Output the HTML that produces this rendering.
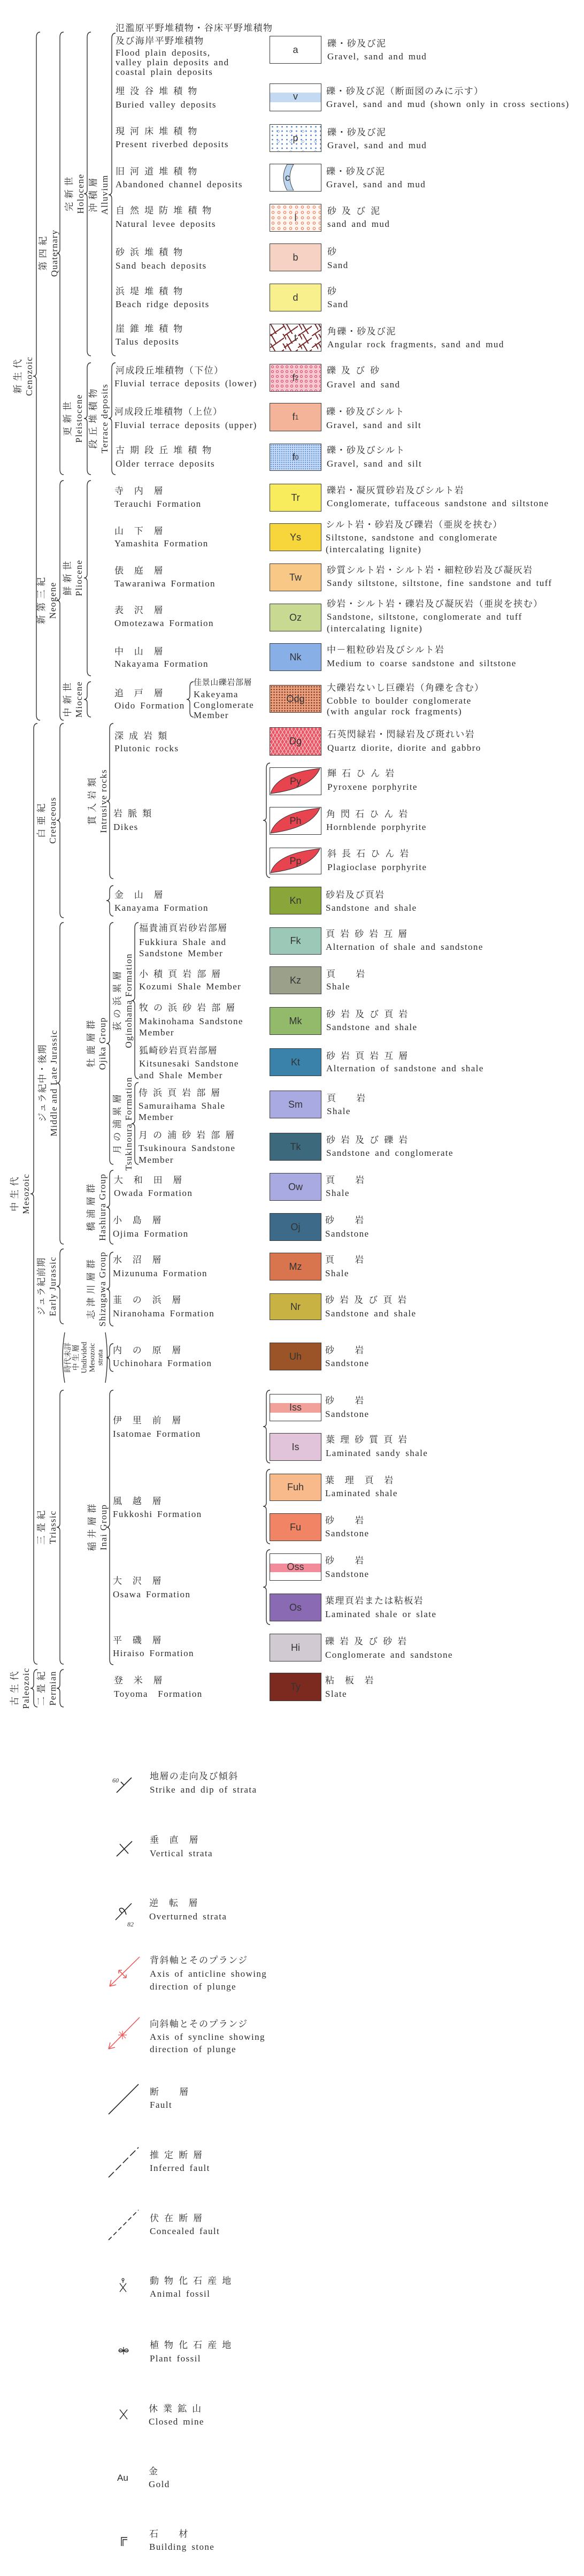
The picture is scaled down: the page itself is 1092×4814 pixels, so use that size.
<!DOCTYPE html>
<html><head><meta charset="utf-8">
<style>
html,body{margin:0;padding:0;background:#fff;}
body{width:1092px;height:4814px;position:relative;overflow:hidden;}
.t{position:absolute;white-space:nowrap;font:17px/20px "Liberation Serif","Noto Serif CJK JP",serif;color:#2b2b2b;letter-spacing:1.4px;word-spacing:3px;}
.s{font-size:15px;letter-spacing:0.6px;}
.b{position:absolute;left:504px;width:97px;border:1.5px solid #3a3a3a;box-sizing:border-box;font:18px "Liberation Sans",sans-serif;display:flex;align-items:center;justify-content:center;color:#333;overflow:hidden;}
.v{position:absolute;transform:translate(-50%,-50%) rotate(-90deg);white-space:nowrap;text-align:center;font:17px/21px "Liberation Serif","Noto Serif CJK JP",serif;color:#2b2b2b;letter-spacing:1.2px;}
.vs{font-size:14px;line-height:15px;letter-spacing:0;}
svg{position:absolute;left:0;top:0;}
</style></head><body>

<svg width="1092" height="4814" fill="none" stroke="#333" stroke-width="1.4">
<path d="M75 60Q68 60 68 70V696Q68 703 62 703Q68 703 68 710V1336Q68 1346 75 1346"/>
<path d="M119 60Q112 60 112 70V466Q112 473 106 473Q112 473 112 480V877Q112 887 119 887"/>
<path d="M170 60Q163 60 163 70V355Q163 362 157 362Q163 362 163 369V655Q163 665 170 665"/>
<path d="M216 62Q209 62 209 72V357Q209 364 203 364Q209 364 209 371V655Q209 665 216 665"/>
<path d="M170 678Q163 678 163 688V775Q163 782 157 782Q163 782 163 789V877Q163 887 170 887"/>
<path d="M216 678Q209 678 209 688V775Q209 782 203 782Q209 782 209 789V877Q209 887 216 887"/>
<path d="M119 898Q112 898 112 908V1115Q112 1122 106 1122Q112 1122 112 1129V1336Q112 1346 119 1346"/>
<path d="M170 898Q163 898 163 908V1073Q163 1080 157 1080Q163 1080 163 1087V1253Q163 1263 170 1263"/>
<path d="M170 1274Q163 1274 163 1284V1300Q163 1307 157 1307Q163 1307 163 1314V1330Q163 1340 170 1340"/>
<path d="M362 1274Q355 1274 355 1284V1300Q355 1307 349 1307Q355 1307 355 1314V1330Q355 1340 362 1340"/>
<path d="M70 1352Q63 1352 63 1362V2224Q63 2231 57 2231Q63 2231 63 2238V3100Q63 3110 70 3110"/>
<path d="M119 1352Q112 1352 112 1362V1526Q112 1533 106 1533Q112 1533 112 1540V1705Q112 1715 119 1715"/>
<path d="M212 1352Q205 1352 205 1362V1490Q205 1497 199 1497Q205 1497 205 1504V1632Q205 1642 212 1642"/>
<path d="M505 1426Q498 1426 498 1436V1526Q498 1533 492 1533Q498 1533 498 1540V1630Q498 1640 505 1640"/>
<path d="M212 1655Q205 1655 205 1665V1676Q205 1683 199 1683Q205 1683 205 1690V1702Q205 1712 212 1712"/>
<path d="M119 1724Q112 1724 112 1734V2017Q112 2024 106 2024Q112 2024 112 2031V2315Q112 2325 119 2325"/>
<path d="M212 1724Q205 1724 205 1734V1943Q205 1950 199 1950Q205 1950 205 1957V2166Q205 2176 212 2176"/>
<path d="M259 1724Q252 1724 252 1734V1863Q252 1870 246 1870Q252 1870 252 1877V2006Q252 2016 259 2016"/>
<path d="M259 2023Q252 2023 252 2033V2093Q252 2100 246 2100Q252 2100 252 2107V2166Q252 2176 259 2176"/>
<path d="M212 2187Q205 2187 205 2197V2249Q205 2256 199 2256Q205 2256 205 2263V2315Q205 2325 212 2325"/>
<path d="M119 2334Q112 2334 112 2344V2397Q112 2404 106 2404Q112 2404 112 2411V2464Q112 2474 119 2474"/>
<path d="M212 2340Q205 2340 205 2350V2402Q205 2409 199 2409Q205 2409 205 2416V2468Q205 2478 212 2478"/>
<path d="M212 2511Q205 2511 205 2521V2530Q205 2537 199 2537Q205 2537 205 2544V2553Q205 2563 212 2563"/>
<path d="M119 2598Q112 2598 112 2608V2847Q112 2854 106 2854Q112 2854 112 2861V3100Q112 3110 119 3110"/>
<path d="M212 2598Q205 2598 205 2608V2847Q205 2854 199 2854Q205 2854 205 2861V3101Q205 3111 212 3111"/>
<path d="M505 2598Q498 2598 498 2608V2659Q498 2666 492 2666Q498 2666 498 2673V2724Q498 2734 505 2734"/>
<path d="M505 2746Q498 2746 498 2756V2808Q498 2815 492 2815Q498 2815 498 2822V2875Q498 2885 505 2885"/>
<path d="M505 2896Q498 2896 498 2906V2959Q498 2966 492 2966Q498 2966 498 2973V3026Q498 3036 505 3036"/>
<path d="M119 3120Q112 3120 112 3130V3148Q112 3155 106 3155Q112 3155 112 3162V3180Q112 3190 119 3190"/>
<path d="M70 3120Q63 3120 63 3130V3148Q63 3155 57 3155Q63 3155 63 3162V3180Q63 3190 70 3190"/>
<!-- undivided parens -->
<path d="M121 2490Q113 2537 121 2584"/><path d="M197 2490Q204 2537 197 2584"/>

<!-- symbols -->
<g stroke="#222" stroke-width="1.6">
<line x1="218" y1="3350" x2="246" y2="3322"/><line x1="232" y1="3336" x2="226" y2="3330"/>
<line x1="218" y1="3469" x2="247" y2="3441"/><line x1="224" y1="3446" x2="240" y2="3464"/>
<line x1="216" y1="3588" x2="246" y2="3557"/><path d="M228 3575Q220 3568 226 3566Q232 3565 236 3578"/>
<line x1="203" y1="3951" x2="259" y2="3895"/>
<line x1="203" y1="4069" x2="259" y2="4013" stroke-dasharray="14 5"/>
<line x1="203" y1="4186" x2="259" y2="4130" stroke-dasharray="8 5"/>
<path d="M224 4267L236 4283M236 4267L224 4283M230 4266V4262" stroke-width="1.3"/>
<circle cx="230" cy="4260" r="2" stroke-width="1.2"/>
<path d="M222 4393H240M231 4386V4400M231 4393Q224 4386 222 4393Q224 4398 231 4393Q238 4386 240 4393Q238 4398 231 4393" stroke-width="1.2"/>
<path d="M224 4503L238 4521M238 4503L224 4521" stroke-width="1.4"/>
<path d="M227 4758V4742H238M230 4758V4746H238" stroke-width="1.4"/>
</g>
<g stroke="#ee5555" stroke-width="1.5">
<line x1="261" y1="3657" x2="205" y2="3712"/><path d="M205 3712l3 -12M205 3712l12 -3"/>
<path d="M222 3682l14 14M222 3682l0 6M222 3682l6 0M236 3696l0 -6M236 3696l-6 0"/>
<line x1="261" y1="3770" x2="203" y2="3829"/><path d="M203 3829l3 -12M203 3829l12 -3"/>
<path d="M229 3795v16M221 3803h16M223 3797l12 12M235 3797l-12 12" stroke-width="1.2"/>
</g>
<text x="210" y="3331" font-family="Liberation Serif" font-style="italic" font-size="12" fill="#333" stroke="none">60</text>
<text x="238" y="3600" font-family="Liberation Serif" font-style="italic" font-size="12" fill="#333" stroke="none">82</text>
</svg>

<!-- vertical labels -->
<div class="v" style="left:44px;top:703px">新 生 代<br>Cenozoic</div>
<div class="v" style="left:91px;top:473px">第 四 紀<br>Quaternary</div>
<div class="v" style="left:140px;top:362px">完 新 世<br>Holocene</div>
<div class="v" style="left:185px;top:364px">沖 積 層<br>Alluvium</div>
<div class="v" style="left:137px;top:782px">更 新 世<br>Pleistocene</div>
<div class="v" style="left:185px;top:782px">段 丘 堆 積 物<br>Terrace deposits</div>
<div class="v" style="left:88px;top:1122px">新 第 三 紀<br>Neogene</div>
<div class="v" style="left:137px;top:1080px">鮮 新 世<br>Pliocene</div>
<div class="v" style="left:137px;top:1307px">中 新 世<br>Miocene</div>
<div class="v" style="left:88px;top:1533px">白 亜 紀<br>Cretaceous</div>
<div class="v" style="left:183px;top:1497px">貫 入 岩 類<br>Intrusive rocks</div>
<div class="v" style="left:38px;top:2231px">中 生 代<br>Mesozoic</div>
<div class="v" style="left:90px;top:2024px">ジュラ紀中・後期<br>Middle and Late Jurassic</div>
<div class="v" style="left:181px;top:1950px">牡 鹿 層 群<br>Ojika Group</div>
<div class="v" style="left:230px;top:1870px">荻 の 浜 累 層<br>Oginohama Formation</div>
<div class="v" style="left:230px;top:2100px">月 の 浦 累 層<br>Tsukinoura Formation</div>
<div class="v" style="left:181px;top:2256px">橋 浦 層 群<br>Hashiura Group</div>
<div class="v" style="left:88px;top:2404px">ジュラ紀前期<br>Early Jurassic</div>
<div class="v" style="left:181px;top:2409px">志 津 川 層 群<br>Shizugawa Group</div>
<div class="v vs" style="left:158px;top:2537px">時代未詳<br>中 生 層<br>Undivided<br>Mesozoic<br>strata</div>
<div class="v" style="left:88px;top:2854px">三 畳 紀<br>Triassic</div>
<div class="v" style="left:183px;top:2854px">稲 井 層 群<br>Inai Group</div>
<div class="v" style="left:38px;top:3155px">古 生 代<br>Paleozoic</div>
<div class="v" style="left:88px;top:3155px">二 畳 紀<br>Permian</div>

<!-- boxes -->
<div class="b" style="top:67px;height:52px;background:#fff">a</div>
<div class="b" style="top:156px;height:52px;background:linear-gradient(#fff 0 16px,#c4daf2 16px 34px,#fff 34px)"><span style="position:relative;top:-2px">v</span></div>
<div class="b" style="top:232px;height:52px;background:radial-gradient(circle,#4a7ed0 1.2px,transparent 1.6px) 0 0/9px 8px,radial-gradient(circle,transparent 1.5px,#6a9ae0 1.6px,#6a9ae0 2.2px,transparent 2.4px) 4px 3px/23px 19px,#fff">p</div>
<div class="b" style="top:306px;height:52px;background:#fff"><svg width="94" height="49" style="left:0;top:0"><path d="M32 0Q18 24 32 49L44 49Q30 24 44 0Z" fill="#bcd6f0" stroke="#444" stroke-width="1"/></svg><span style="position:relative;left:-15px">c</span></div>
<div class="b" style="top:381px;height:52px;background:radial-gradient(circle,transparent 1.6px,#ee7a50 1.8px,#ee7a50 2.6px,transparent 2.9px) 0 0/11px 10px,#fff6f2">l</div>
<div class="b" style="top:455px;height:52px;background:#f6d2c4">b</div>
<div class="b" style="top:530px;height:52px;background:#f8f08c">d</div>
<div class="b" style="top:605px;height:52px;background:repeating-linear-gradient(60deg,transparent 0 9px,#7a2a2a 9px 11px,transparent 11px 20px),repeating-linear-gradient(-35deg,transparent 0 14px,#7a2a2a 14px 16px,transparent 16px 26px),#fff;background-size:30px 18px,26px 22px">t</div>
<div class="b" style="top:680px;height:52px;background:radial-gradient(circle,transparent 1.5px,#e0405a 1.7px,#e0405a 2.4px,transparent 2.7px) 0 0/9px 9px,#f6c8d2">f<sub style="font-size:12px">2</sub></div>
<div class="b" style="top:753px;height:53px;background:#f4b49a">f<sub style="font-size:12px">1</sub></div>
<div class="b" style="top:829px;height:51px;background:radial-gradient(circle,#5a88d0 0.9px,transparent 1.2px) 0 0/4px 4px,#c4daf4">f<sub style="font-size:12px">0</sub></div>
<div class="b" style="top:904px;height:52px;background:#f8ec5c">Tr</div>
<div class="b" style="top:978px;height:52px;background:#f6d63a">Ys</div>
<div class="b" style="top:1053px;height:52px;background:#f8c886">Tw</div>
<div class="b" style="top:1128px;height:52px;background:#c8da92">Oz</div>
<div class="b" style="top:1202px;height:52px;background:#88afe6">Nk</div>
<div class="b" style="top:1280px;height:52px;background:radial-gradient(circle,#5a2a1a 1px,transparent 1.4px) 0 0/5px 5px,#f0a07c">Odg</div>
<div class="b" style="top:1359px;height:53px;background:repeating-linear-gradient(60deg,transparent 0 5px,#fbd0d4 5px 6px),repeating-linear-gradient(-60deg,transparent 0 5px,#fbd0d4 5px 6px),#ec5464">Dg</div>
<div class="b" style="top:1434px;height:52px;background:#fff"><svg width="94" height="49"><path d="M1 48Q12 10 93 1Q78 38 1 48Z" fill="#e84450" stroke="#333" stroke-width="1"/></svg><span style="position:relative">Py</span></div>
<div class="b" style="top:1508px;height:52px;background:#fff"><svg width="94" height="49"><path d="M1 48Q12 10 93 1Q78 38 1 48Z" fill="#e84450" stroke="#333" stroke-width="1"/></svg><span style="position:relative">Ph</span></div>
<div class="b" style="top:1584px;height:50px;background:#fff"><svg width="94" height="47"><path d="M1 46Q12 10 93 1Q78 36 1 46Z" fill="#e84450" stroke="#333" stroke-width="1"/></svg><span style="position:relative">Pp</span></div>
<div class="b" style="top:1657px;height:52px;background:#8aa63a">Kn</div>
<div class="b" style="top:1733px;height:51px;background:#9cc8b8">Fk</div>
<div class="b" style="top:1806px;height:52px;background:#9aa08a">Kz</div>
<div class="b" style="top:1882px;height:52px;background:#92ba6a">Mk</div>
<div class="b" style="top:1959px;height:52px;background:#3a82aa">Kt</div>
<div class="b" style="top:2038px;height:52px;background:#aaaae2">Sm</div>
<div class="b" style="top:2117px;height:52px;background:#3c6a7c">Tk</div>
<div class="b" style="top:2192px;height:52px;background:#aaaae2">Ow</div>
<div class="b" style="top:2267px;height:52px;background:#3c6a88">Oj</div>
<div class="b" style="top:2341px;height:52px;background:#d8744e">Mz</div>
<div class="b" style="top:2417px;height:50px;background:#c8b244">Nr</div>
<div class="b" style="top:2509px;height:52px;background:#9a5428">Uh</div>
<div class="b" style="top:2605px;height:51px;background:linear-gradient(#fff 0 16px,#f2a09a 16px 34px,#fff 34px)">Iss</div>
<div class="b" style="top:2678px;height:52px;background:#e2c4da">Is</div>
<div class="b" style="top:2754px;height:51px;background:#f8ba8a">Fuh</div>
<div class="b" style="top:2828px;height:52px;background:#f08464">Fu</div>
<div class="b" style="top:2903px;height:51px;background:linear-gradient(#fff 0 18px,#f28c9a 18px 34px,#fff 34px)">Oss</div>
<div class="b" style="top:2978px;height:52px;background:#8a6ab2">Os</div>
<div class="b" style="top:3053px;height:52px;background:#d2cad2">Hi</div>
<div class="b" style="top:3126px;height:53px;background:#7c2a20">Ty</div>

<!-- left names -->
<div class="t" style="left:216px;top:43px">氾濫原平野堆積物・谷床平野堆積物</div>
<div class="t" style="left:216px;top:67px">及び海岸平野堆積物</div>
<div class="t" style="left:216px;top:89px">Flood plain deposits,</div>
<div class="t" style="left:216px;top:107px">valley plain deposits and</div>
<div class="t" style="left:216px;top:125px">coastal plain deposits</div>
<div class="t" style="left:216px;top:161px">埋 没 谷 堆 積 物</div>
<div class="t" style="left:216px;top:186px">Buried valley deposits</div>
<div class="t" style="left:216px;top:236px">現 河 床 堆 積 物</div>
<div class="t" style="left:216px;top:260px">Present riverbed deposits</div>
<div class="t" style="left:216px;top:311px">旧 河 道 堆 積 物</div>
<div class="t" style="left:216px;top:335px">Abandoned channel deposits</div>
<div class="t" style="left:216px;top:384px">自 然 堤 防 堆 積 物</div>
<div class="t" style="left:216px;top:409px">Natural levee deposits</div>
<div class="t" style="left:216px;top:462px">砂 浜 堆 積 物</div>
<div class="t" style="left:216px;top:487px">Sand beach deposits</div>
<div class="t" style="left:216px;top:535px">浜 堤 堆 積 物</div>
<div class="t" style="left:216px;top:559px">Beach ridge deposits</div>
<div class="t" style="left:216px;top:605px">崖 錐 堆 積 物</div>
<div class="t" style="left:216px;top:629px">Talus deposits</div>
<div class="t" style="left:216px;top:683px">河成段丘堆積物（下位）</div>
<div class="t" style="left:214px;top:707px">Fluvial terrace deposits (lower)</div>
<div class="t" style="left:214px;top:760px">河成段丘堆積物（上位）</div>
<div class="t" style="left:214px;top:785px">Fluvial terrace deposits (upper)</div>
<div class="t" style="left:216px;top:832px">古 期 段 丘 堆 積 物</div>
<div class="t" style="left:216px;top:857px">Older terrace deposits</div>
<div class="t" style="left:214px;top:908px">寺　内　層</div>
<div class="t" style="left:214px;top:932px">Terauchi Formation</div>
<div class="t" style="left:214px;top:983px">山　下　層</div>
<div class="t" style="left:214px;top:1006px">Yamashita Formation</div>
<div class="t" style="left:214px;top:1057px">俵　庭　層</div>
<div class="t" style="left:214px;top:1081px">Tawaraniwa Formation</div>
<div class="t" style="left:214px;top:1131px">表　沢　層</div>
<div class="t" style="left:214px;top:1155px">Omotezawa Formation</div>
<div class="t" style="left:214px;top:1208px">中　山　層</div>
<div class="t" style="left:214px;top:1231px">Nakayama Formation</div>
<div class="t" style="left:214px;top:1286px">追　戸　層</div>
<div class="t" style="left:214px;top:1309px">Oido Formation</div>
<div class="t s" style="left:362px;top:1266px">佳景山礫岩部層</div>
<div class="t" style="left:362px;top:1288px">Kakeyama</div>
<div class="t" style="left:362px;top:1308px">Conglomerate</div>
<div class="t" style="left:362px;top:1327px">Member</div>
<div class="t" style="left:214px;top:1366px">深 成 岩 類</div>
<div class="t" style="left:214px;top:1389px">Plutonic rocks</div>
<div class="t" style="left:212px;top:1511px">岩 脈 類</div>
<div class="t" style="left:212px;top:1536px">Dikes</div>
<div class="t" style="left:214px;top:1663px">金　山　層</div>
<div class="t" style="left:214px;top:1687px">Kanayama Formation</div>
<div class="t" style="left:260px;top:1725px">福貴浦頁岩砂岩部層</div>
<div class="t" style="left:260px;top:1751px">Fukkiura Shale and</div>
<div class="t" style="left:260px;top:1772px">Sandstone Member</div>
<div class="t" style="left:260px;top:1811px">小 積 頁 岩 部 層</div>
<div class="t" style="left:260px;top:1834px">Kozumi Shale Member</div>
<div class="t" style="left:260px;top:1874px">牧 の 浜 砂 岩 部 層</div>
<div class="t" style="left:260px;top:1899px">Makinohama Sandstone</div>
<div class="t" style="left:260px;top:1920px">Member</div>
<div class="t" style="left:260px;top:1954px">狐崎砂岩頁岩部層</div>
<div class="t" style="left:260px;top:1978px">Kitsunesaki Sandstone</div>
<div class="t" style="left:260px;top:2000px">and Shale Member</div>
<div class="t" style="left:259px;top:2033px">侍 浜 頁 岩 部 層</div>
<div class="t" style="left:259px;top:2057px">Samuraihama Shale</div>
<div class="t" style="left:259px;top:2078px">Member</div>
<div class="t" style="left:259px;top:2112px">月 の 浦 砂 岩 部 層</div>
<div class="t" style="left:259px;top:2136px">Tsukinoura Sandstone</div>
<div class="t" style="left:259px;top:2158px">Member</div>
<div class="t" style="left:213px;top:2196px">大　和　田　層</div>
<div class="t" style="left:213px;top:2220px">Owada Formation</div>
<div class="t" style="left:211px;top:2271px">小　島　層</div>
<div class="t" style="left:211px;top:2296px">Ojima Formation</div>
<div class="t" style="left:211px;top:2345px">水　沼　層</div>
<div class="t" style="left:211px;top:2370px">Mizunuma Formation</div>
<div class="t" style="left:211px;top:2420px">韮　の　浜　層</div>
<div class="t" style="left:211px;top:2445px">Niranohama Formation</div>
<div class="t" style="left:211px;top:2514px">内　の　原　層</div>
<div class="t" style="left:211px;top:2538px">Uchinohara Formation</div>
<div class="t" style="left:211px;top:2645px">伊　里　前　層</div>
<div class="t" style="left:211px;top:2670px">Isatomae Formation</div>
<div class="t" style="left:211px;top:2796px">風　越　層</div>
<div class="t" style="left:211px;top:2820px">Fukkoshi Formation</div>
<div class="t" style="left:211px;top:2945px">大　沢　層</div>
<div class="t" style="left:211px;top:2970px">Osawa Formation</div>
<div class="t" style="left:211px;top:3056px">平　磯　層</div>
<div class="t" style="left:211px;top:3080px">Hiraiso Formation</div>
<div class="t" style="left:213px;top:3131px">登　米　層</div>
<div class="t" style="left:213px;top:3156px">Toyoma　Formation</div>

<!-- descriptions -->
<div class="t" style="left:612px;top:72px">礫・砂及び泥</div>
<div class="t" style="left:612px;top:96px">Gravel, sand and mud</div>
<div class="t" style="left:610px;top:161px">礫・砂及び泥（断面図のみに示す）</div>
<div class="t" style="left:610px;top:185px">Gravel, sand and mud (shown only in cross sections)</div>
<div class="t" style="left:612px;top:238px">礫・砂及び泥</div>
<div class="t" style="left:612px;top:262px">Gravel, sand and mud</div>
<div class="t" style="left:610px;top:311px">礫・砂及び泥</div>
<div class="t" style="left:610px;top:335px">Gravel, sand and mud</div>
<div class="t" style="left:612px;top:385px">砂 及 び 泥</div>
<div class="t" style="left:612px;top:409px">sand and mud</div>
<div class="t" style="left:612px;top:461px">砂</div>
<div class="t" style="left:612px;top:486px">Sand</div>
<div class="t" style="left:612px;top:535px">砂</div>
<div class="t" style="left:612px;top:559px">Sand</div>
<div class="t" style="left:612px;top:610px">角礫・砂及び泥</div>
<div class="t" style="left:612px;top:634px">Angular rock fragments, sand and mud</div>
<div class="t" style="left:611px;top:683px">礫 及 び 砂</div>
<div class="t" style="left:611px;top:709px">Gravel and sand</div>
<div class="t" style="left:610px;top:760px">礫・砂及びシルト</div>
<div class="t" style="left:610px;top:785px">Gravel, sand and silt</div>
<div class="t" style="left:611px;top:832px">礫・砂及びシルト</div>
<div class="t" style="left:611px;top:857px">Gravel, sand and silt</div>
<div class="t" style="left:611px;top:907px">礫岩・凝灰質砂岩及びシルト岩</div>
<div class="t" style="left:611px;top:931px">Conglomerate, tuffaceous sandstone and siltstone</div>
<div class="t" style="left:609px;top:971px">シルト岩・砂岩及び礫岩（亜炭を挟む）</div>
<div class="t" style="left:609px;top:995px">Siltstone, sandstone and conglomerate</div>
<div class="t" style="left:609px;top:1017px">(intercalating lignite)</div>
<div class="t" style="left:611px;top:1056px">砂質シルト岩・シルト岩・細粒砂岩及び凝灰岩</div>
<div class="t" style="left:611px;top:1080px">Sandy siltstone, siltstone, fine sandstone and tuff</div>
<div class="t" style="left:611px;top:1119px">砂岩・シルト岩・礫岩及び凝灰岩（亜炭を挟む）</div>
<div class="t" style="left:611px;top:1143px">Sandstone, siltstone, conglomerate and tuff</div>
<div class="t" style="left:611px;top:1165px">(intercalating lignite)</div>
<div class="t" style="left:611px;top:1205px">中－粗粒砂岩及びシルト岩</div>
<div class="t" style="left:611px;top:1230px">Medium to coarse sandstone and siltstone</div>
<div class="t" style="left:611px;top:1276px">大礫岩ないし巨礫岩（角礫を含む）</div>
<div class="t" style="left:611px;top:1300px">Cobble to boulder conglomerate</div>
<div class="t" style="left:611px;top:1320px">(with angular rock fragments)</div>
<div class="t" style="left:612px;top:1363px">石英閃緑岩・閃緑岩及び斑れい岩</div>
<div class="t" style="left:612px;top:1388px">Quartz diorite, diorite and gabbro</div>
<div class="t" style="left:612px;top:1436px">輝 石 ひ ん 岩</div>
<div class="t" style="left:612px;top:1461px">Pyroxene porphyrite</div>
<div class="t" style="left:610px;top:1512px">角 閃 石 ひ ん 岩</div>
<div class="t" style="left:610px;top:1536px">Hornblende porphyrite</div>
<div class="t" style="left:612px;top:1586px">斜 長 石 ひ ん 岩</div>
<div class="t" style="left:612px;top:1611px">Plagioclase porphyrite</div>
<div class="t" style="left:609px;top:1663px">砂岩及び頁岩</div>
<div class="t" style="left:609px;top:1687px">Sandstone and shale</div>
<div class="t" style="left:609px;top:1736px">頁 岩 砂 岩 互 層</div>
<div class="t" style="left:609px;top:1760px">Alternation of shale and sandstone</div>
<div class="t" style="left:610px;top:1811px">頁　　岩</div>
<div class="t" style="left:610px;top:1834px">Shale</div>
<div class="t" style="left:610px;top:1886px">砂 岩 及 び 頁 岩</div>
<div class="t" style="left:610px;top:1910px">Sandstone and shale</div>
<div class="t" style="left:610px;top:1964px">砂 岩 頁 岩 互 層</div>
<div class="t" style="left:610px;top:1987px">Alternation of sandstone and shale</div>
<div class="t" style="left:611px;top:2043px">頁　　岩</div>
<div class="t" style="left:611px;top:2067px">Shale</div>
<div class="t" style="left:610px;top:2121px">砂 岩 及 び 礫 岩</div>
<div class="t" style="left:610px;top:2145px">Sandstone and conglomerate</div>
<div class="t" style="left:609px;top:2196px">頁　　岩</div>
<div class="t" style="left:609px;top:2220px">Shale</div>
<div class="t" style="left:608px;top:2271px">砂　　岩</div>
<div class="t" style="left:608px;top:2296px">Sandstone</div>
<div class="t" style="left:608px;top:2345px">頁　　岩</div>
<div class="t" style="left:608px;top:2370px">Shale</div>
<div class="t" style="left:608px;top:2420px">砂 岩 及 び 頁 岩</div>
<div class="t" style="left:608px;top:2445px">Sandstone and shale</div>
<div class="t" style="left:608px;top:2514px">砂　　岩</div>
<div class="t" style="left:608px;top:2538px">Sandstone</div>
<div class="t" style="left:608px;top:2608px">砂　　岩</div>
<div class="t" style="left:608px;top:2633px">Sandstone</div>
<div class="t" style="left:609px;top:2681px">葉 理 砂 質 頁 岩</div>
<div class="t" style="left:609px;top:2706px">Laminated sandy shale</div>
<div class="t" style="left:608px;top:2757px">葉　理　頁　岩</div>
<div class="t" style="left:608px;top:2781px">Laminated shale</div>
<div class="t" style="left:608px;top:2832px">砂　　岩</div>
<div class="t" style="left:608px;top:2856px">Sandstone</div>
<div class="t" style="left:608px;top:2907px">砂　　岩</div>
<div class="t" style="left:608px;top:2932px">Sandstone</div>
<div class="t" style="left:608px;top:2982px">葉理頁岩または粘板岩</div>
<div class="t" style="left:608px;top:3007px">Laminated shale or slate</div>
<div class="t" style="left:608px;top:3058px">礫 岩 及 び 砂 岩</div>
<div class="t" style="left:608px;top:3083px">Conglomerate and sandstone</div>
<div class="t" style="left:608px;top:3131px">粘　板　岩</div>
<div class="t" style="left:608px;top:3156px">Slate</div>

<!-- symbol legend -->
<div class="t" style="left:280px;top:3310px">地層の走向及び傾斜</div>
<div class="t" style="left:280px;top:3335px">Strike and dip of strata</div>
<div class="t" style="left:280px;top:3429px">垂　直　層</div>
<div class="t" style="left:280px;top:3454px">Vertical strata</div>
<div class="t" style="left:279px;top:3547px">逆　転　層</div>
<div class="t" style="left:279px;top:3572px">Overturned strata</div>
<div class="t" style="left:280px;top:3654px">背斜軸とそのプランジ</div>
<div class="t" style="left:280px;top:3679px">Axis of anticline showing</div>
<div class="t" style="left:280px;top:3703px">direction of plunge</div>
<div class="t" style="left:280px;top:3773px">向斜軸とそのプランジ</div>
<div class="t" style="left:280px;top:3797px">Axis of syncline showing</div>
<div class="t" style="left:280px;top:3820px">direction of plunge</div>
<div class="t" style="left:280px;top:3900px">断　　層</div>
<div class="t" style="left:280px;top:3924px">Fault</div>
<div class="t" style="left:280px;top:4018px">推 定 断 層</div>
<div class="t" style="left:280px;top:4042px">Inferred fault</div>
<div class="t" style="left:280px;top:4136px">伏 在 断 層</div>
<div class="t" style="left:280px;top:4160px">Concealed fault</div>
<div class="t" style="left:280px;top:4253px">動 物 化 石 産 地</div>
<div class="t" style="left:280px;top:4277px">Animal fossil</div>
<div class="t" style="left:280px;top:4373px">植 物 化 石 産 地</div>
<div class="t" style="left:280px;top:4398px">Plant fossil</div>
<div class="t" style="left:278px;top:4492px">休 業 鉱 山</div>
<div class="t" style="left:278px;top:4516px">Closed mine</div>
<div class="t" style="left:278px;top:4609px">金</div>
<div class="t" style="left:278px;top:4633px">Gold</div>
<div class="t" style="left:219px;top:4621px;font-family:'Liberation Sans',sans-serif;letter-spacing:0">Au</div>
<div class="t" style="left:279px;top:4726px">石　　材</div>
<div class="t" style="left:279px;top:4750px">Building stone</div>

</body></html>
